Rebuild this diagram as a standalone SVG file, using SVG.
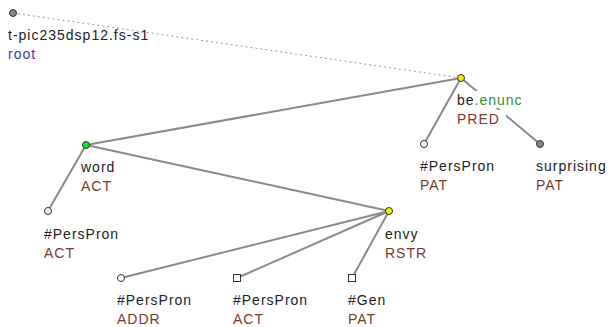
<svg xmlns="http://www.w3.org/2000/svg" width="609" height="327" viewBox="0 0 609 327">
<style>
text{font-family:"Liberation Sans",Arial,sans-serif;font-size:14px;letter-spacing:1px;fill:#222}
.fn{fill:#7a3a2c}
.blue{fill:#3a3aa8}
.grn{fill:#2f8f2f}
.edge{stroke:#8a8a8a;stroke-width:2;fill:none}
.dot{stroke:#9a9a9a;stroke-width:1;stroke-dasharray:2,3;fill:none}
.nd{stroke:#333;stroke-width:1}
.bg{fill:#fff}
</style>
<rect width="609" height="327" fill="#fff"/>
<g id="connectors">
<line class="dot" x1="13" y1="13" x2="461" y2="78"/>
<line class="edge" x1="461" y1="78" x2="86" y2="145"/>
<line class="edge" x1="461" y1="78" x2="424" y2="144"/>
<line class="edge" x1="461" y1="78" x2="540" y2="144"/>
<line class="edge" x1="86" y1="145" x2="48" y2="211"/>
<line class="edge" x1="86" y1="145" x2="389" y2="211"/>
<line class="edge" x1="389" y1="211" x2="121" y2="278"/>
<line class="edge" x1="389" y1="211" x2="237" y2="278"/>
<line class="edge" x1="389" y1="211" x2="352" y2="278"/>
</g>
<g id="root">
<circle class="nd" cx="13" cy="13" r="3.5" fill="#888"/>
<text x="8" y="40">t-pic235dsp12.fs-s1</text>
<text x="8" y="59" class="blue">root</text>
</g>
<g id="be">
<rect class="bg" x="456" y="91" width="74" height="17"/>
<rect class="bg" x="456" y="110" width="50" height="17"/>
<circle class="nd" cx="461" cy="78" r="3.5" fill="#f0f000"/>
<text x="457" y="105">be<tspan class="grn">.enunc</tspan></text>
<text x="457" y="124" class="fn">PRED</text>
</g>
<g id="word">
<circle class="nd" cx="86" cy="145" r="3.5" fill="#22dd22"/>
<text x="81" y="172">word</text>
<text x="81" y="191" class="fn">ACT</text>
</g>
<g id="perspron-pat">
<circle class="nd" cx="424" cy="144" r="3.5" fill="#fff"/>
<text x="420" y="171">#PersPron</text>
<text x="420" y="190" class="fn">PAT</text>
</g>
<g id="surprising">
<circle class="nd" cx="540" cy="144" r="3.5" fill="#888"/>
<text x="536" y="171">surprising</text>
<text x="536" y="190" class="fn">PAT</text>
</g>
<g id="perspron-act">
<circle class="nd" cx="48" cy="211" r="3.5" fill="#fff"/>
<text x="44" y="239">#PersPron</text>
<text x="44" y="258" class="fn">ACT</text>
</g>
<g id="envy">
<circle class="nd" cx="389" cy="211" r="3.5" fill="#f0f000"/>
<text x="385" y="239">envy</text>
<text x="385" y="258" class="fn">RSTR</text>
</g>
<g id="perspron-addr">
<circle class="nd" cx="121" cy="278" r="3.5" fill="#fff"/>
<text x="117" y="305">#PersPron</text>
<text x="117" y="324" class="fn">ADDR</text>
</g>
<g id="perspron-act2">
<rect class="nd" x="233.5" y="274.5" width="7" height="7" fill="#fff"/>
<text x="233" y="305">#PersPron</text>
<text x="233" y="324" class="fn">ACT</text>
</g>
<g id="gen">
<rect class="nd" x="348.5" y="274.5" width="7" height="7" fill="#fff"/>
<text x="348" y="305">#Gen</text>
<text x="348" y="324" class="fn">PAT</text>
</g>
</svg>
